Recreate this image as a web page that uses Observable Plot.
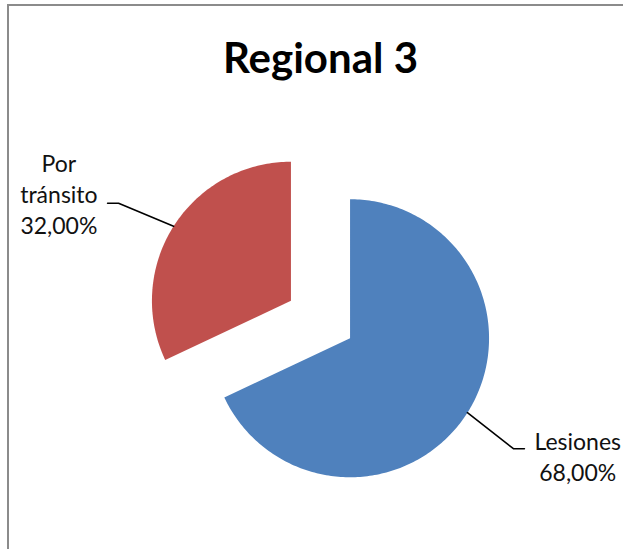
<!DOCTYPE html>
<html><head><meta charset="utf-8">
<script src="https://cdn.jsdelivr.net/npm/d3@7"></script>
<script src="https://cdn.jsdelivr.net/npm/@observablehq/plot@0.6"></script>
<style>
html,body{margin:0;padding:0;background:#fff;}
#wrap{position:relative;width:623px;height:549px;overflow:hidden;}
#wrap svg{position:absolute;left:0;top:0;}
#frame{position:absolute;left:7px;top:4px;width:700px;height:700px;border-top:2px solid #8b8b8b;border-left:2px solid #8b8b8b;pointer-events:none;}
</style></head><body>
<div id="wrap"><div id="frame"></div></div>
<script>
const title = "Regional 3";
const categories = ["Lesiones", "Por tránsito"];
const values = [68, 32];
const colors = ["#4F81BD", "#C0504D"];

const W = 623, H = 549;
const layout = {cx: 320, cy: 319, r: 139, explode: 35, titleY: 72};
const leaderOffsets = [[46, 36], [-55, -23]];
const tailLen = 11, gap = 10;
const labelDy = [7, -10];
const fontLabel = 23, lineHeight = 1.35, fontTitle = 42;
const fontFamily = "Lato, sans-serif";

const rows = categories.map((name, i) => ({name, value: values[i]}));
const total = d3.sum(values);
const arcs = d3.pie().sort(null).value(d => d.value)(rows);
const ctx = document.createElement("canvas").getContext("2d");
ctx.font = `${fontLabel}px Lato`;

const slicePts = [], leaders = [], labels = [];
arcs.forEach((a, i) => {
  const mid = (a.startAngle + a.endAngle) / 2;
  const ux = Math.sin(mid), uy = -Math.cos(mid);
  const ox = layout.cx + layout.explode * ux, oy = layout.cy + layout.explode * uy;
  const name = a.data.name;
  slicePts.push({name, x: ox, y: oy});
  const n = Math.ceil((a.endAngle - a.startAngle) / (Math.PI / 180));
  for (let k = 0; k <= n; k++) {
    const t = a.startAngle + (a.endAngle - a.startAngle) * k / n;
    slicePts.push({name, x: ox + layout.r * Math.sin(t), y: oy - layout.r * Math.cos(t)});
  }
  const sx = ox + layout.r * ux, sy = oy + layout.r * uy;
  const [dx, dy] = leaderOffsets[i];
  const ex = sx + dx, ey = sy + dy;
  const side = Math.sign(ux);
  const tx = ex + side * tailLen;
  leaders.push({name, x: sx, y: sy}, {name, x: ex, y: ey}, {name, x: tx, y: ey});
  const pct = (a.data.value / total * 100).toFixed(2).replace(".", ",") + "%";
  const text = name.split(" ").join("\n") + "\n" + pct;
  const w = d3.max(text.split("\n"), s => ctx.measureText(s).width);
  labels.push({text, x: tx + side * (gap + w / 2), y: ey + labelDy[i]});
});

const chart = Plot.plot({
  width: W, height: H, margin: 0,
  x: {domain: [0, W], range: [0, W], axis: null},
  y: {domain: [0, H], range: [0, H], axis: null},
  color: {domain: categories, range: colors},
  style: {background: "transparent", fontFamily},
  marks: [
    Plot.line(slicePts, {x: "x", y: "y", z: "name", fill: "name", stroke: "none", curve: "linear-closed"}),
    Plot.line(leaders, {x: "x", y: "y", z: "name", stroke: "#000", strokeWidth: 1.6}),
    Plot.text(labels, {x: "x", y: "y", text: "text", textAnchor: "middle", lineAnchor: "middle", lineHeight, fontSize: fontLabel, fill: "#111"}),
    Plot.text([title], {x: () => layout.cx, y: () => layout.titleY, text: d => d, fontSize: fontTitle, fontWeight: "bold", lineAnchor: "bottom", fill: "#000"})
  ]
});
document.getElementById("wrap").prepend(chart);
</script>
</body></html>
